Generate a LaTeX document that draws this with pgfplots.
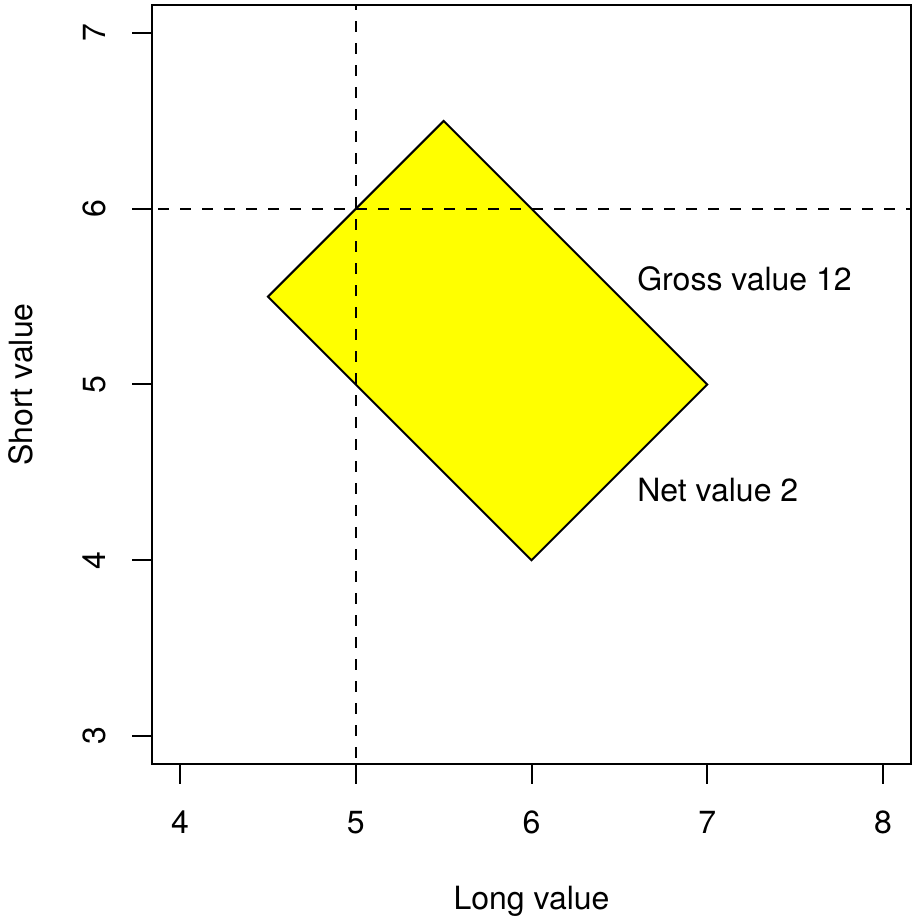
\documentclass[border=0pt]{standalone}
\usepackage{fontspec}
\setmainfont{TeX Gyre Heros}
\usepackage{pgfplots}
\pgfplotsset{compat=1.18}
\definecolor{ryellow}{RGB}{255,255,0}
\begin{document}
\begin{tikzpicture}
\begin{axis}[
  scale only axis,
  width=379.5pt, height=379.5pt,
  xmin=3.84, xmax=8.16, ymin=2.84, ymax=7.16,
  axis line style={line width=1pt},
  every tick/.style={line width=1pt, black},
  tick align=outside,
  major tick length=10pt,
  xtick pos=bottom, ytick pos=left,
  xtick={4,5,6,7,8}, xticklabels={4,5,6,7,8},
  ytick={3,4,5,6,7}, yticklabels={3,4,5,6,7},
  font=\fontsize{16}{19}\selectfont,
  xticklabel style={anchor=center, yshift=-19.25pt},
  yticklabel style={anchor=center, xshift=-18.75pt, rotate=90},
  xlabel={Long value},
  ylabel={Short value},
  xlabel style={at={(axis description cs:0.5,-0.19104)}, anchor=base},
  ylabel style={at={(axis description cs:-0.1581,0.5)}, anchor=base, rotate=0},
]
\addplot[draw=black, line width=1pt, fill=ryellow] coordinates {(4.5,5.5) (5.5,6.5) (7,5) (6,4)} -- cycle;
\addplot[black, line width=1pt, dash pattern=on 5.5pt off 5.5pt] coordinates {(5,2) (5,8)};
\addplot[black, line width=1pt, dash pattern=on 5.5pt off 5.5pt] coordinates {(3,6) (9,6)};
\node[anchor=west, inner sep=0pt] at (axis cs:6.6,5.6) {Gross value 12};
\node[anchor=west, inner sep=0pt] at (axis cs:6.6,4.4) {Net value 2};
\end{axis}
\pgfresetboundingbox
\path ([shift={(-76pt,-77pt)}]current axis.south west) rectangle ([shift={(0.5pt,2.5pt)}]current axis.north east);
\end{tikzpicture}
\end{document}
